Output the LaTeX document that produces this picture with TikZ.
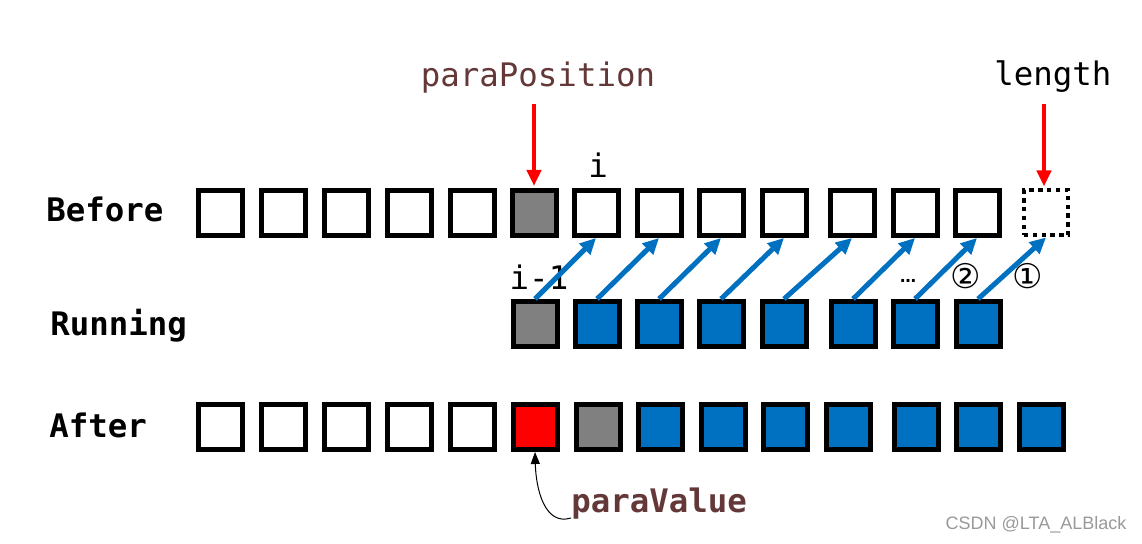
\documentclass[tikz,border=0pt]{standalone}
\usepackage{fontspec}
\setmainfont{DejaVu Sans Mono}
\newfontfamily\circfont{DejaVu Sans}
\newfontfamily\markfont{Liberation Sans}
\usetikzlibrary{arrows.meta}
\definecolor{cellblue}{RGB}{0,112,192}
\definecolor{cellgray}{RGB}{128,128,128}
\definecolor{cellred}{RGB}{255,0,0}
\definecolor{parabrown}{RGB}{100,56,56}
\tikzset{
  cell/.style={draw, line width=2.5pt, minimum width=22pt, minimum height=22.5pt, inner sep=0pt},
  graycell/.style={cell, fill=cellgray},
  bluecell/.style={cell, fill=cellblue},
  redcell/.style={cell, fill=cellred},
  dotcell/.style={cell, line width=2pt, dash pattern=on 2.2pt off 2.2pt},
  rowlabel/.style={anchor=base west, inner sep=0pt, font=\bfseries\fontsize{16.2pt}{19pt}\selectfont},
  codelabel/.style={anchor=base, inner sep=0pt, font=\fontsize{16.2pt}{19pt}\selectfont},
  marklabel/.style={inner sep=0pt, font=\circfont\fontsize{17pt}{19pt}\selectfont},
  redarrow/.style={draw=cellred, line width=2pt, -{Triangle[width=7pt,length=8pt]}, shorten >=1pt},
  shiftarrow/.style={draw=cellblue, line width=2.5pt, -{Triangle[width=7.5pt,length=8pt]}},
  noteline/.style={draw, line width=0.5pt, -{Triangle[width=4.5pt,length=6pt]}}
}
\begin{document}
\begin{tikzpicture}[x=0.5pt,y=-0.5pt]
  \useasboundingbox (0,0) rectangle (1142,544);
  % row labels
  \node [rowlabel] (before) at (46,222) {Before};
  \node [rowlabel] (running) at (50,336) {Running};
  \node [rowlabel] (after) at (49,438) {After};
  % before
  \node [cell] (b1) at (220,213) {};
  \node [cell] (b2) at (283,213) {};
  \node [cell] (b3) at (346,213) {};
  \node [cell] (b4) at (409,213) {};
  \node [cell] (b5) at (472,213) {};
  \node [graycell] (b6) at (534,213) {};
  \node [cell] (b7) at (596,213) {};
  \node [cell] (b8) at (659,213) {};
  \node [cell] (b9) at (721,213) {};
  \node [cell] (b10) at (784,213) {};
  \node [cell] (b11) at (852,213) {};
  \node [cell] (b12) at (915,213) {};
  \node [cell] (b13) at (977,213) {};
  \node [dotcell] (b14) at (1046,213) {};
  % running
  \node [graycell] (r1) at (535,324) {};
  \node [bluecell] (r2) at (597,324) {};
  \node [bluecell] (r3) at (659,324) {};
  \node [bluecell] (r4) at (721,324) {};
  \node [bluecell] (r5) at (784,324) {};
  \node [bluecell] (r6) at (853,324) {};
  \node [bluecell] (r7) at (915,324) {};
  \node [bluecell] (r8) at (978,324) {};
  % after
  \node [cell] (a1) at (220,427) {};
  \node [cell] (a2) at (283,427) {};
  \node [cell] (a3) at (346,427) {};
  \node [cell] (a4) at (409,427) {};
  \node [cell] (a5) at (472,427) {};
  \node [redcell] (a6) at (535,427) {};
  \node [graycell] (a7) at (598,427) {};
  \node [bluecell] (a8) at (660,427) {};
  \node [bluecell] (a9) at (723,427) {};
  \node [bluecell] (a10) at (785,427) {};
  \node [bluecell] (a11) at (848,427) {};
  \node [bluecell] (a12) at (916,427) {};
  \node [bluecell] (a13) at (978,427) {};
  \node [bluecell] (a14) at (1041,427) {};
  % labels
  \node [codelabel, text=parabrown] (parapos) at (538,87) {paraPosition};
  \node [codelabel, anchor=base west] (length) at (994,86) {length};
  \node [codelabel] (idx) at (598,178) {i};
  \node [codelabel] (prev) at (539,290) {i-1};
  \node [inner sep=0pt, font=\circfont\bfseries\fontsize{8pt}{10pt}\selectfont] (dots) at (908,281) {…};
  \node [marklabel] (two) at (966,276) {②};
  \node [marklabel] (one) at (1028,276) {①};
  \node [codelabel, anchor=base west, text=parabrown, font=\bfseries\fontsize{16.2pt}{19pt}\selectfont] (paraval) at (571,513) {paraValue};
  \node [inner sep=0pt, text=black!40, font=\markfont\fontsize{9pt}{11pt}\selectfont] (mark) at (1036,525) {CSDN @LTA\_ALBlack};
  % red pointers
  \coordinate (pptail) at (534,104);
  \coordinate (lentail) at (1044,104);
  \draw [redarrow] (pptail) -- (pptail |- b6.north);
  \draw [redarrow] (lentail) -- (lentail |- b14.north);
  % shifting
  \draw [shiftarrow] (r1.north) -- (b7.south);
  \draw [shiftarrow] (r2.north) -- (b8.south);
  \draw [shiftarrow] (r3.north) -- (b9.south);
  \draw [shiftarrow] (r4.north) -- (b10.south);
  \draw [shiftarrow] (r5.north) -- (b11.south);
  \draw [shiftarrow] (r6.north) -- (b12.south);
  \draw [shiftarrow] (r7.north) -- (b13.south);
  \draw [shiftarrow] (r8.north) -- (b14.south);
  % new value
  \coordinate (pvfoot) at (571,518);
  \draw [noteline] (pvfoot) .. controls (545,526) and (536,490) .. (a6.south);
\end{tikzpicture}
\end{document}
